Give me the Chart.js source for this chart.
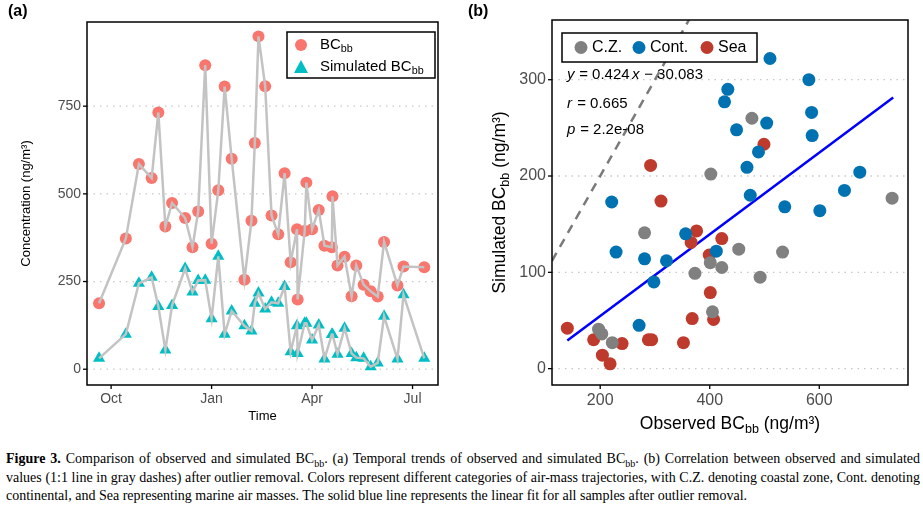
<!DOCTYPE html>
<html>
<head>
<meta charset="utf-8">
<script src="https://cdn.jsdelivr.net/npm/chart.js@4"></script>
<style>
  body { margin: 0; background: #fff; width: 923px; height: 522px; position: relative; overflow: hidden; }
  #wa { position: absolute; left: 0; top: 0; width: 450px; height: 440px; }
  #wb { position: absolute; left: 450px; top: 0; width: 473px; height: 440px; }
  .tag { position: absolute; top: 2px; font: bold 16px "Liberation Sans", Arial, sans-serif; }
  #cap { position: absolute; left: 6px; top: 450px; width: 914px; font: 14px/18.5px "Liberation Serif", serif; color: #000; text-align: justify; }
  #cap sub { line-height: 0; font-size: 10px; }
</style>
</head>
<body>
<div id="wa"><canvas id="ca"></canvas></div>
<div id="wb"><canvas id="cb"></canvas></div>
<div class="tag" style="left:8px">(a)</div>
<div class="tag" style="left:468px">(b)</div>
<div id="cap"><b>Figure 3.</b> Comparison of observed and simulated BC<sub>bb</sub>. (a) Temporal trends of observed and simulated BC<sub>bb</sub>. (b) Correlation between observed and simulated values (1:1 line in gray dashes) after outlier removal. Colors represent different categories of air-mass trajectories, with C.Z. denoting coastal zone, Cont. denoting continental, and Sea representing marine air masses. The solid blue line represents the linear fit for all samples after outlier removal.</div>
<script>
// ---- panel (a): time in months since 1 Oct ----
const months = [-0.36,0.44,0.83,1.21,1.41,1.62,1.82,2.21,2.43,2.60,2.81,3.00,3.20,3.39,3.60,3.98,4.19,4.29,4.40,4.60,4.79,4.99,5.18,5.36,5.55,5.57,5.78,5.83,6.00,6.20,6.37,6.59,6.61,6.76,6.97,7.18,7.32,7.54,7.75,7.96,8.15,8.55,8.73,9.35];
const observed = [188,373,585,545,732,407,474,431,348,450,867,358,510,806,600,255,423,645,949,807,438,385,559,305,399,199,394,532,399,454,352,348,493,296,321,208,296,241,222,207,363,239,293,291];
const simulated = [31,100,245,262,179,55,182,287,220,253,254,144,322,100,166,124,109,188,217,172,191,188,236,50,124,45,131,131,83,126,29,99,99,43,117,45,33,31,7,18,151,29,212,31];
const monthTicks = {0: 'Oct', 3: 'Jan', 6: 'Apr', 9: 'Jul'};

// ---- panel (b): observed vs simulated by air mass ----
const czObs = [477,402,733,281,453,533,401,422,373,492,405,197,203,222];
const czSim = [260,202,177,141,124,121,110,105,99,95,59,41,36,27];
const contObs = [510,581,433,427,586,504,449,587,489,468,674,646,474,221,537,601,356,229,281,412,321,298,271];
const contSim = [322,300,290,277,266,255,248,242,225,209,204,185,180,173,168,164,140,121,114,122,112,90,45];
const seaObs = [499,292,311,376,366,422,399,401,368,407,140,188,240,294,288,352,204,218];
const seaSim = [233,211,174,143,131,135,118,79,52,51,42,30,26,30,30,27,14,5];
const fitSlope = 0.424, fitIntercept = -30.083;
const fitRange = [140, 735];
const oneToOne = [112, 362];

const RED = '#F8766D', TEAL = '#00BFC4';
const CZ = '#808080', CONT = '#0072B2', SEA = '#BE3A2C';
const FONT = '"Liberation Sans", Arial, sans-serif';

function pts(xs, ys) { return xs.map((x, i) => ({x: x, y: ys[i]})); }

// text with subscript parts: [[text, isSub], ...]
function richText(ctx, parts, x, y, size, align) {
  let w = 0;
  parts.forEach(p => { ctx.font = (p[1] ? size * 0.72 : size) + 'px ' + FONT; w += ctx.measureText(p[0]).width; });
  let cx = align === 'center' ? x - w / 2 : x;
  ctx.textBaseline = 'middle'; ctx.textAlign = 'left';
  parts.forEach(p => {
    ctx.font = (p[1] ? size * 0.72 : size) + 'px ' + FONT;
    ctx.fillText(p[0], cx, p[1] ? y + size * 0.3 : y);
    cx += ctx.measureText(p[0]).width;
  });
}

function frame(chart) {
  const a = chart.chartArea, c = chart.ctx;
  c.save(); c.strokeStyle = '#000'; c.lineWidth = 1.5;
  c.strokeRect(a.left, a.top, a.right - a.left, a.bottom - a.top);
  c.restore();
}

function axisCommon(min, max, step, fitW, fitH, isX, cb, size) {
  return {
    type: 'linear', min: min, max: max, border: { display: false },
    afterFit: s => { if (isX) s.height = fitH; else s.width = fitW; },
    afterBuildTicks: s => {
      const t = [];
      for (let v = Math.ceil(min / step) * step; v <= max; v += step) t.push({ value: v });
      s.ticks = t;
    },
    grid: { display: false, drawTicks: false },
    ticks: { color: '#4d4d4d', font: { family: FONT, size: size || 13 }, padding: 6, callback: cb || (v => v) }
  };
}

const ticksMarks = {
  id: 'marks',
  afterDraw(chart) {
    const c = chart.ctx; c.save(); c.strokeStyle = '#000'; c.lineWidth = 1.3;
    const xs = chart.scales.x, ys = chart.scales.y, a = chart.chartArea;
    xs.ticks.forEach(t => { const p = xs.getPixelForValue(t.value); c.beginPath(); c.moveTo(p, a.bottom); c.lineTo(p, a.bottom + 4); c.stroke(); });
    ys.ticks.forEach(t => { const p = ys.getPixelForValue(t.value); c.beginPath(); c.moveTo(a.left, p); c.lineTo(a.left - 4, p); c.stroke(); });
    c.restore();
  }
};

// dotted grid
function dotted(chart) {
  const ys = chart.scales.y, a = chart.chartArea, c = chart.ctx;
  c.save(); c.strokeStyle = '#c8c8c8'; c.lineWidth = 1.3; c.setLineDash([1.5, 5]);
  ys.ticks.forEach(t => { const p = ys.getPixelForValue(t.value); c.beginPath(); c.moveTo(a.left, p); c.lineTo(a.right, p); c.stroke(); });
  c.restore();
}

// ---------- chart (a) ----------
new Chart(document.getElementById('ca'), {
  type: 'scatter',
  data: { datasets: [
    { data: pts(months, simulated), showLine: true, borderColor: '#c3c3c3', borderWidth: 2.5, pointRadius: 0 },
    { data: pts(months, observed), showLine: true, borderColor: '#c3c3c3', borderWidth: 2.5, pointRadius: 0 },
    { data: pts(months, observed), pointRadius: 6, backgroundColor: RED, borderWidth: 0, pointStyle: 'circle' },
    { data: pts(months, simulated), pointRadius: 7, backgroundColor: TEAL, borderWidth: 0, pointStyle: 'triangle' }
  ]},
  options: {
    responsive: true, maintainAspectRatio: false, animation: false,
    layout: { padding: { top: 22, right: 12, left: 0, bottom: 0 } },
    plugins: { legend: { display: false }, tooltip: { enabled: false } },
    scales: {
      x: axisCommon(-0.72, 9.76, 3, 0, 55, true, v => monthTicks[v] || '', 14),
      y: axisCommon(-45, 990, 250, 87, 0, false, null, 14)
    }
  },
  plugins: [{ id: 'grid', beforeDatasetsDraw: dotted }, ticksMarks, {
    id: 'deco',
    afterDraw(chart) {
      frame(chart);
      const c = chart.ctx, a = chart.chartArea;
      c.save(); c.fillStyle = '#000';
      c.font = '13px ' + FONT; c.textAlign = 'center'; c.textBaseline = 'middle';
      c.fillText('Time', (a.left + a.right) / 2, 416);
      c.translate(26, (a.top + a.bottom) / 2); c.rotate(-Math.PI / 2);
      c.fillText('Concentration (ng/m\u00b3)', 0, 0);
      c.restore();
      // legend
      c.save();
      c.strokeStyle = '#000'; c.lineWidth = 1.5; c.strokeRect(287, 32, 148, 46);
      c.fillStyle = RED; c.beginPath(); c.arc(301, 45, 6, 0, 2 * Math.PI); c.fill();
      c.fillStyle = TEAL; c.beginPath(); c.moveTo(301, 60); c.lineTo(308, 73); c.lineTo(294, 73); c.closePath(); c.fill();
      c.fillStyle = '#000';
      richText(c, [['BC', false], ['bb', true]], 320, 45, 15);
      richText(c, [['Simulated BC', false], ['bb', true]], 320, 67, 15);
      c.restore();
    }
  }]
});

// ---------- chart (b) ----------
const fitLine = fitRange.map(x => ({x: x, y: fitSlope * x + fitIntercept}));
const diag = oneToOne.map(x => ({x: x, y: x}));
new Chart(document.getElementById('cb'), {
  type: 'scatter',
  data: { datasets: [
    { data: diag, showLine: true, borderColor: '#7a7a7a', borderWidth: 2.5, borderDash: [9, 7], pointRadius: 0 },
    { data: pts(czObs, czSim), pointRadius: 6.5, backgroundColor: CZ, borderWidth: 0 },
    { data: pts(contObs, contSim), pointRadius: 6.5, backgroundColor: CONT, borderWidth: 0 },
    { data: pts(seaObs, seaSim), pointRadius: 6.5, backgroundColor: SEA, borderWidth: 0 },
    { data: fitLine, showLine: true, borderColor: '#0000FF', borderWidth: 2.5, pointRadius: 0 }
  ]},
  options: {
    responsive: true, maintainAspectRatio: false, animation: false,
    layout: { padding: { top: 20, right: 15, left: 0, bottom: 0 } },
    plugins: { legend: { display: false }, tooltip: { enabled: false } },
    scales: {
      x: axisCommon(112, 762, 200, 0, 55, true, null, 16),
      y: axisCommon(-17, 362, 100, 102, 0, false, null, 16)
    }
  },
  plugins: [{ id: 'grid', beforeDatasetsDraw: dotted }, ticksMarks, {
    id: 'deco',
    afterDraw(chart) {
      frame(chart);
      const c = chart.ctx, a = chart.chartArea;
      c.save(); c.fillStyle = '#000';
      richText(c, [['Observed BC', false], ['bb', true], [' (ng/m\u00b3)', false]], (a.left + a.right) / 2, 424, 17.5, 'center');
      c.translate(50, (a.top + a.bottom) / 2); c.rotate(-Math.PI / 2);
      richText(c, [['Simulated BC', false], ['bb', true], [' (ng/m\u00b3)', false]], 0, 0, 17.5, 'center');
      c.restore();
      // equation
      c.save(); c.fillStyle = '#000'; c.textBaseline = 'middle'; c.textAlign = 'left';
      c.font = 'italic 15px ' + FONT; c.fillText('y', 117, 75);
      c.font = '15px ' + FONT; c.fillText(' = 0.424', 125, 75);
      c.font = 'italic 15px ' + FONT; c.fillText('x', 182, 75);
      c.font = '15px ' + FONT; c.fillText(' \u2212 30.083', 190, 75);
      c.font = 'italic 15px ' + FONT; c.fillText('r', 117, 104);
      c.font = '15px ' + FONT; c.fillText(' = 0.665', 123, 104);
      c.font = 'italic 15px ' + FONT; c.fillText('p', 117, 130);
      c.font = '15px ' + FONT; c.fillText(' = 2.2e-08', 126, 130);
      // legend
      c.fillStyle = '#fff'; c.fillRect(112, 33, 195, 29);
      c.strokeStyle = '#000'; c.lineWidth = 1.5; c.strokeRect(112, 33, 195, 29);
      [[CZ, 'C.Z.', 131], [CONT, 'Cont.', 189], [SEA, 'Sea', 257]].forEach(it => {
        c.fillStyle = it[0]; c.beginPath(); c.arc(it[2], 47.5, 6.5, 0, 2 * Math.PI); c.fill();
        c.fillStyle = '#000'; c.font = '16px ' + FONT; c.fillText(it[1], it[2] + 11, 48);
      });
      c.restore();
    }
  }]
});
</script>
</body>
</html>
